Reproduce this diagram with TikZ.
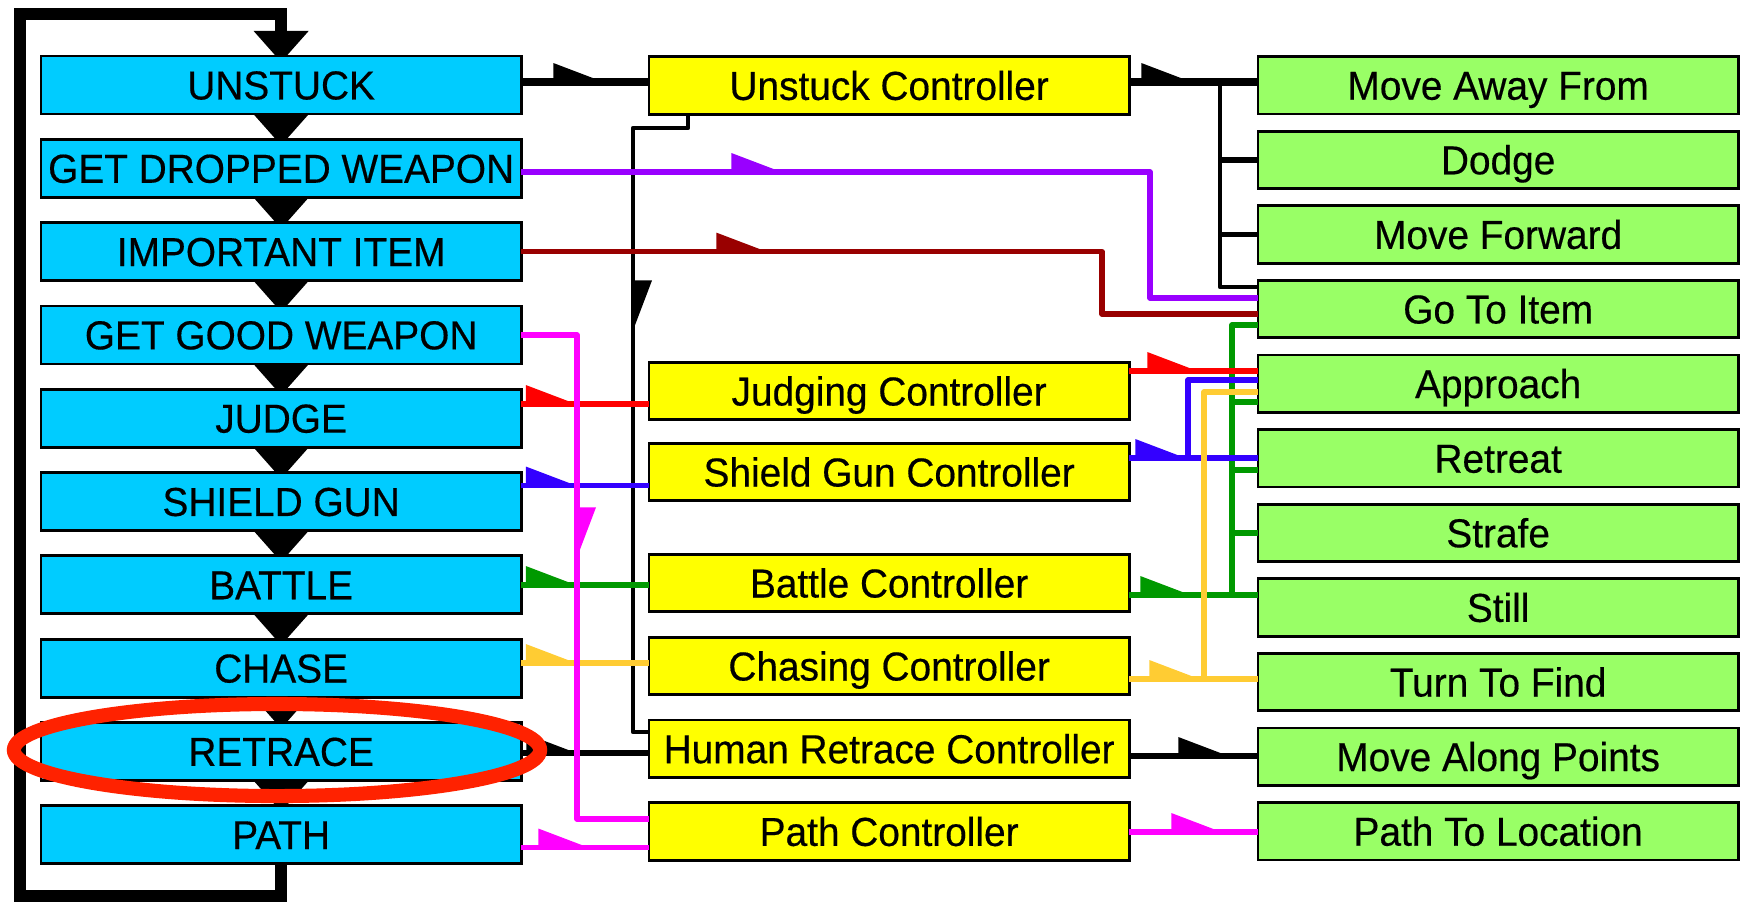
\documentclass[tikz,border=0pt]{standalone}
\usepackage{fontspec}
\setmainfont{Liberation Sans}[FakeStretch=0.96, FakeBold=0.4]
\usetikzlibrary{arrows.meta,decorations.markings}

\definecolor{boxcyan}{HTML}{00CCFF}
\definecolor{boxyellow}{HTML}{FFFF00}
\definecolor{boxgreen}{HTML}{99FF66}
\definecolor{linepurple}{HTML}{9900FF}
\definecolor{linedarkred}{HTML}{990000}
\definecolor{linemagenta}{HTML}{FF00FF}
\definecolor{linered}{HTML}{FF0000}
\definecolor{lineblue}{HTML}{3300FF}
\definecolor{linegreen}{HTML}{009900}
\definecolor{lineorange}{HTML}{FFCC33}
\definecolor{ringred}{HTML}{FF2200}

\pgfdeclarelayer{back}
\pgfsetlayers{back,main}

\tikzset{
  box/.style={draw=black, line width=0.8pt, rectangle, anchor=north west,
    inner sep=0pt, outer sep=0pt, minimum width=4.8cm, minimum height=0.575cm,
    text height=8.2pt, text depth=0pt, font=\fontsize{11.5}{14}\selectfont},
  statebox/.style={box, fill=boxcyan, minimum height=0.58cm},
  ctrlbox/.style={box, fill=boxyellow},
  actbox/.style={box, fill=boxgreen},
  wire/.style={line width=1.6pt, line join=round},
  thinwire/.style={line width=1.2pt, line join=round},
  flagat/.style={postaction={decorate}, decoration={markings,
     mark=at position #1 with {\arrow{Triangle[harpoon, length=0.5cm, width=0.38cm, line width=0pt]}}}},
  flowtip/.style={line width=0.5pt, shorten >=-0.06cm,
     -{Triangle[length=0.31cm, width=0.55cm, line width=0pt]}},
  loopline/.style={line width=3.6pt, shorten >=-0.06cm,
     -{Triangle[length=0.31cm, width=0.55cm, line width=0pt]}},
}

\begin{document}
\begin{tikzpicture}[x=0.01cm, y=-0.01cm]
\useasboundingbox (0,0) rectangle (1740,902);

% behaviour states
\node[statebox] (s0) at (41,56)    {UNSTUCK};
\node[statebox] (s1) at (41,139.3) {GET DROPPED WEAPON};
\node[statebox] (s2) at (41,222.6) {IMPORTANT ITEM};
\node[statebox] (s3) at (41,305.9) {GET GOOD WEAPON};
\node[statebox] (s4) at (41,389.2) {JUDGE};
\node[statebox] (s5) at (41,472.5) {SHIELD GUN};
\node[statebox] (s6) at (41,555.8) {BATTLE};
\node[statebox] (s7) at (41,639.1) {CHASE};
\node[statebox] (s8) at (41,722.4) {RETRACE};
\node[statebox] (s9) at (41,805.7) {PATH};

% controllers
\node[ctrlbox] (c0) at (649,56.7)  {Unstuck Controller};
\node[ctrlbox] (c1) at (649,362.3) {Judging Controller};
\node[ctrlbox] (c2) at (649,443.3) {Shield Gun Controller};
\node[ctrlbox] (c3) at (649,554.3) {Battle Controller};
\node[ctrlbox] (c4) at (649,637.3) {Chasing Controller};
\node[ctrlbox] (c5) at (649,720)   {Human Retrace Controller};
\node[ctrlbox] (c6) at (649,802.7) {Path Controller};

% actions
\node[actbox] (a0)  at (1258,56.5)  {Move Away From};
\node[actbox] (a1)  at (1258,131.1) {Dodge};
\node[actbox] (a2)  at (1258,205.7) {Move Forward};
\node[actbox] (a3)  at (1258,280.3) {Go To Item};
\node[actbox] (a4)  at (1258,354.9) {Approach};
\node[actbox] (a5)  at (1258,429.5) {Retreat};
\node[actbox] (a6)  at (1258,504.1) {Strafe};
\node[actbox] (a7)  at (1258,578.7) {Still};
\node[actbox] (a8)  at (1258,653.3) {Turn To Find};
\node[actbox] (a9)  at (1258,727.9) {Move Along Points};
\node[actbox] (a10) at (1258,802.5) {Path To Location};

% priority chain and the loop back to the top
\begin{pgfonlayer}{back}
  \foreach \a/\b in {s0/s1,s1/s2,s2/s3,s3/s4,s4/s5,s5/s6,s6/s7,s7/s8,s8/s9}
    \draw[flowtip] (\a.south) -- (\b.north);
  \draw[loopline] (s9.south) -- (s9.south |- 0,896) -- (20,896) -- (20,14)
    -- (s0.north |- 0,14) -- (s0.north);
\end{pgfonlayer}

% states to controllers
\draw[thinwire, flagat=2.71cm] (c0.south -| 688,0) |- (633,128) |- (c5.west |- 0,732);
\draw[wire, line width=2pt, flagat=0.82cm] (s0.east |- 0,82) -- (c0.west |- 0,82);
\draw[wire, linepurple, flagat=2.6cm] (s1.east |- 0,172) -| (1150,298) -- (a3.west |- 0,298);
\draw[wire, linedarkred, flagat=2.45cm] (s2.east) -| (1102,314) -- (a3.west |- 0,314);
\draw[wire, linered, flagat=0.545cm] (s4.east |- 0,404) -- (c1.west |- 0,404);
\draw[wire, lineblue, flagat=0.545cm] (s5.east |- 0,485.5) -- (c2.west |- 0,485.5);
\draw[wire, linegreen, flagat=0.545cm] (s6.east |- 0,585) -- (c3.west |- 0,585);
\draw[wire, lineorange, flagat=0.545cm] (s7.east |- 0,663) -- (c4.west |- 0,663);
\draw[wire, flagat=0.55cm] (s8.east |- 0,753) -- (c5.west |- 0,753);
\draw[wire, linemagenta, flagat=0.67cm] (s9.east |- 0,847.5) -- (c6.west |- 0,847.5);
\draw[wire, linemagenta, flagat=2.78cm] (s3.east) -| (577,819) -- (c6.west |- 0,819);

% controllers to actions
\coordinate (jU) at (1220,82);
\coordinate (jS) at (1188,458);
\coordinate (jB) at (1232,595);
\coordinate (jC) at (1204,679);

\draw[wire, linegreen] (jB) |- (a3.west |- 0,325);
\draw[wire, linegreen] (jB |- 0,402) -- (a4.west |- 0,402);
\draw[wire, linegreen] (jB |- 0,470) -- (a5.west |- 0,470);
\draw[wire, linegreen] (jB |- a6.west) -- (a6.west);

\draw[wire, line width=2pt, flagat=0.62cm] (c0.east |- jU) -- (a0.west |- jU);
\draw[thinwire] (jU) |- (a3.west |- 0,287);
\draw[wire] (jU |- a1.west) -- (a1.west);
\draw[wire] (jU |- a2.west) -- (a2.west);

\draw[wire, linered, flagat=0.68cm] (c1.east |- 0,371) -- (a4.west |- 0,371);
\draw[wire, lineblue, flagat=0.56cm] (c2.east |- jS) -- (a5.west |- jS);
\draw[wire, lineblue] (jS) |- (a4.west |- 0,380);
\draw[wire, linegreen, flagat=0.61cm] (c3.east |- jB) -- (a7.west |- jB);
\draw[wire, lineorange, flagat=0.70cm] (c4.east |- jC) -- (a8.west |- jC);
\draw[wire, lineorange] (jC) |- (a4.west |- 0,392);
\draw[wire, flagat=0.99cm] (c5.east |- 0,756) -- (a9.west |- 0,756);
\draw[wire, linemagenta, flagat=0.92cm] (c6.east |- 0,832) -- (a10.west |- 0,832);

% highlight ring
\draw[ringred, line width=4pt] (277,750) ellipse [x radius=2.63cm, y radius=0.46cm];
\end{tikzpicture}
\end{document}
